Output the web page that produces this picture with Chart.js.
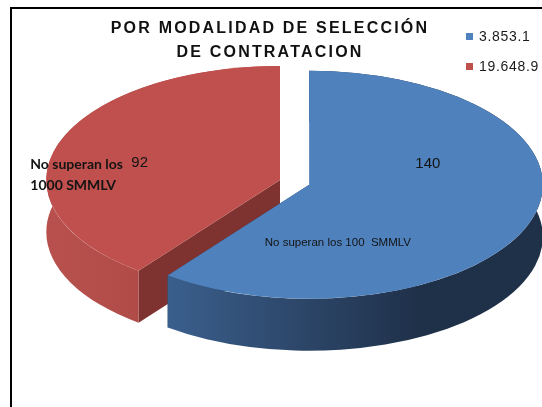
<!DOCTYPE html>
<html>
<head>
<meta charset="utf-8">
<script src="https://cdn.jsdelivr.net/npm/chart.js@4.4.0/dist/chart.umd.min.js"></script>
<style>
  html, body { margin: 0; padding: 0; background: #fff; }
  #wrap { position: relative; width: 542px; height: 407px; overflow: hidden; background: #fff; }
  #frame { position: absolute; left: 10px; top: 7px; width: 700px; height: 600px;
           border-left: 2px solid #000; border-top: 2px solid #000; }
  #chartBox { position: absolute; left: 0; top: 0; width: 542px; height: 407px; }
  #title { position: absolute; left: 60px; width: 420px; top: 16px; text-align: center;
           font: bold 16px "Liberation Sans", Arial, sans-serif; letter-spacing: 2.2px;
           line-height: 24px; color: #111; }
  #legend { position: absolute; left: 466px; top: 21px; font: 14px "Liberation Sans", Arial, sans-serif;
            letter-spacing: 0.7px; color: #1a1a1a; }
  .item { height: 30px; display: flex; align-items: center; white-space: nowrap; }
  .swatch { width: 7px; height: 7px; margin-right: 6px; flex: none; }
</style>
</head>
<body>
<div id="wrap">
  <div id="frame"></div>
  <div id="chartBox"><canvas id="pieChart"></canvas></div>
  <div id="title"></div>
  <div id="legend"></div>
</div>
<script>
const titleLines = ["POR MODALIDAD DE SELECCIÓN", "DE CONTRATACION"];
const categories = ["No superan los 100  SMMLV", "No superan los 1000 SMMLV"];
const values = [140, 92];
const legendLabels = ["3.853.1", "19.648.9"];

const topColors = ["#4f81bd", "#c0504d"];
const cutColors = ["#2a4263", "#7e3331"];
const explode = [15, 0];
const stretchX = 2.05;
const depth = 52;

document.getElementById("title").innerHTML = titleLines.join("<br>");

const legend = document.getElementById("legend");
legendLabels.forEach((label, i) => {
  const item = document.createElement("div");
  item.className = "item";
  const sw = document.createElement("span");
  sw.className = "swatch";
  sw.style.background = topColors[i];
  const txt = document.createElement("span");
  txt.textContent = label;
  item.appendChild(sw);
  item.appendChild(txt);
  legend.appendChild(item);
});

function sideGradient(ctx, a, i) {
  const g = ctx.createLinearGradient(a.x - a.outerRadius, 0, a.x + a.outerRadius, 0);
  if (i === 0) {
    g.addColorStop(0, "#4670a3");
    g.addColorStop(0.2, "#3d6494");
    g.addColorStop(0.55, "#2c4668");
    g.addColorStop(0.8, "#1f3049");
    g.addColorStop(1, "#1f3049");
  } else {
    g.addColorStop(0, "#b8514d");
    g.addColorStop(0.45, "#a64542");
    g.addColorStop(1, "#9a3d3a");
  }
  return g;
}

function shiftOf(a, i) {
  const mid = (a.startAngle + a.endAngle) / 2;
  return [Math.cos(mid) * explode[i], Math.sin(mid) * explode[i]];
}

function drawSides(ctx, a, i) {
  const [dx, dy] = shiftOf(a, i);
  const x = a.x + dx, y = a.y + dy, r = a.outerRadius;
  ctx.fillStyle = cutColors[i];
  [a.startAngle, a.endAngle].forEach(ang => {
    const ex = x + Math.cos(ang) * r, ey = y + Math.sin(ang) * r;
    ctx.beginPath();
    ctx.moveTo(x, y);
    ctx.lineTo(ex, ey);
    ctx.lineTo(ex, ey + depth);
    ctx.lineTo(x, y + depth);
    ctx.closePath();
    ctx.fill();
  });
  ctx.beginPath();
  ctx.arc(x, y, r, a.startAngle, a.endAngle);
  ctx.arc(x, y + depth, r, a.endAngle, a.startAngle, true);
  ctx.closePath();
  ctx.fillStyle = sideGradient(ctx, a, i);
  ctx.fill();
}

function drawLabels(chart, cx) {
  const ctx = chart.ctx;
  const arcs = chart.getDatasetMeta(0).data;
  const anchors = arcs.map((a, i) => {
    const [dx, dy] = shiftOf(a, i);
    const mid = (a.startAngle + a.endAngle) / 2;
    const px = a.x + dx + Math.cos(mid) * a.outerRadius * 0.5;
    const py = a.y + dy + Math.sin(mid) * a.outerRadius * 0.5;
    return [cx + stretchX * (px - cx), py];
  });
  ctx.save();
  ctx.fillStyle = "#141414";
  ctx.textBaseline = "middle";

  // blue slice: value above, name below
  let [ax, ay] = anchors[0];
  ctx.textAlign = "center";
  ctx.font = '15px "Liberation Sans", Arial, sans-serif';
  ctx.fillText(String(values[0]), ax + 8, ay - 39);
  ctx.font = '11.5px "Liberation Sans", Arial, sans-serif';
  ctx.fillText(categories[0], ax - 82, ay + 40);

  // red slice: bold wrapped name with value
  [ax, ay] = anchors[1];
  const words = categories[1].split(" ");
  const line1 = words.slice(0, 3).join(" ");
  const line2 = words.slice(3).join(" ");
  ctx.textAlign = "left";
  ctx.font = 'bold 14px Lato, "Open Sans", sans-serif';
  const lx = ax - 139;
  ctx.fillText(line1, lx, ay + 3);
  const w = ctx.measureText(line1 + " ").width;
  ctx.fillText(line2, lx, ay + 24);
  ctx.font = '15px "Liberation Sans", Arial, sans-serif';
  ctx.fillText(String(values[1]), lx + w + 5, ay + 1);
  ctx.restore();
}

const pie3d = {
  id: "pie3d",
  beforeDatasetsDraw(chart) {
    const ctx = chart.ctx;
    const arcs = chart.getDatasetMeta(0).data;
    const cx = arcs[0].x, cy = arcs[0].y;
    ctx.save();
    ctx.translate(cx, cy);
    ctx.scale(stretchX, 1);
    ctx.translate(-cx, -cy);
    const order = arcs.map((a, i) => i).reverse();
    order.forEach(i => drawSides(ctx, arcs[i], i));
    order.forEach(i => {
      const [dx, dy] = shiftOf(arcs[i], i);
      ctx.save();
      ctx.translate(dx, dy);
      arcs[i].draw(ctx);
      ctx.restore();
    });
    ctx.restore();
    drawLabels(chart, cx);
    return false;
  }
};

new Chart(document.getElementById("pieChart"), {
  type: "pie",
  data: {
    labels: categories,
    datasets: [{
      data: values,
      backgroundColor: topColors,
      borderWidth: 0,
      radius: 114
    }]
  },
  options: {
    responsive: true,
    maintainAspectRatio: false,
    animation: false,
    events: [],
    layout: { padding: { left: 18, right: 0, top: 0, bottom: 47 } },
    plugins: {
      legend: { display: false },
      title: { display: false },
      tooltip: { enabled: false }
    }
  },
  plugins: [pie3d]
});
</script>
</body>
</html>
